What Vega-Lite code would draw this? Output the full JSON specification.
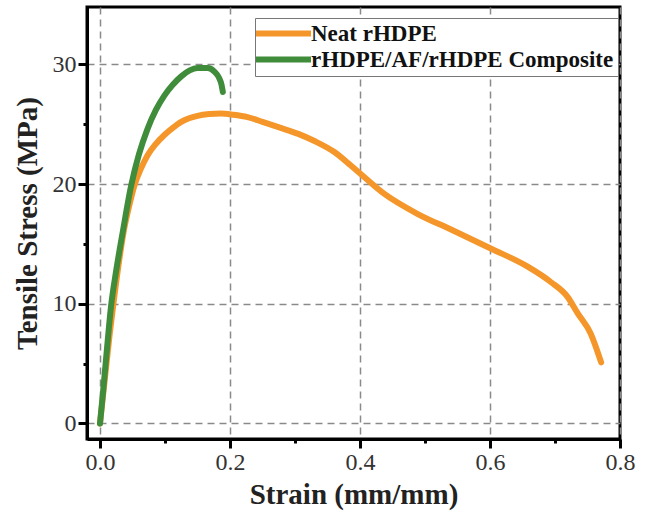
{
  "$schema": "https://vega.github.io/schema/vega-lite/v6.json",
  "autosize": {"type": "none"},
  "width": 533,
  "height": 432,
  "padding": {"left": 87, "top": 7, "right": 26, "bottom": 73},
  "background": "white",
  "config": {
    "font": "Liberation Serif",
    "view": {"stroke": "black", "strokeWidth": 3}
  },
  "data": {
    "values": [
      {"sample": "Neat rHDPE", "strain": 0.0, "stress": 0.0},
      {"sample": "Neat rHDPE", "strain": 0.005, "stress": 2.5},
      {"sample": "Neat rHDPE", "strain": 0.01, "stress": 5.0},
      {"sample": "Neat rHDPE", "strain": 0.015, "stress": 7.5},
      {"sample": "Neat rHDPE", "strain": 0.022, "stress": 10.6},
      {"sample": "Neat rHDPE", "strain": 0.03, "stress": 13.8},
      {"sample": "Neat rHDPE", "strain": 0.037, "stress": 16.2},
      {"sample": "Neat rHDPE", "strain": 0.045, "stress": 18.2},
      {"sample": "Neat rHDPE", "strain": 0.053, "stress": 19.9},
      {"sample": "Neat rHDPE", "strain": 0.063, "stress": 21.3},
      {"sample": "Neat rHDPE", "strain": 0.073, "stress": 22.4},
      {"sample": "Neat rHDPE", "strain": 0.085, "stress": 23.3},
      {"sample": "Neat rHDPE", "strain": 0.099, "stress": 24.1},
      {"sample": "Neat rHDPE", "strain": 0.112, "stress": 24.7},
      {"sample": "Neat rHDPE", "strain": 0.125, "stress": 25.2},
      {"sample": "Neat rHDPE", "strain": 0.137, "stress": 25.5},
      {"sample": "Neat rHDPE", "strain": 0.15, "stress": 25.7},
      {"sample": "Neat rHDPE", "strain": 0.168, "stress": 25.85},
      {"sample": "Neat rHDPE", "strain": 0.186, "stress": 25.9},
      {"sample": "Neat rHDPE", "strain": 0.205, "stress": 25.8},
      {"sample": "Neat rHDPE", "strain": 0.227, "stress": 25.6},
      {"sample": "Neat rHDPE", "strain": 0.25, "stress": 25.2},
      {"sample": "Neat rHDPE", "strain": 0.278, "stress": 24.7},
      {"sample": "Neat rHDPE", "strain": 0.305, "stress": 24.2},
      {"sample": "Neat rHDPE", "strain": 0.33, "stress": 23.6},
      {"sample": "Neat rHDPE", "strain": 0.36, "stress": 22.7},
      {"sample": "Neat rHDPE", "strain": 0.385, "stress": 21.6},
      {"sample": "Neat rHDPE", "strain": 0.402, "stress": 20.8},
      {"sample": "Neat rHDPE", "strain": 0.437, "stress": 19.2},
      {"sample": "Neat rHDPE", "strain": 0.489, "stress": 17.5},
      {"sample": "Neat rHDPE", "strain": 0.54, "stress": 16.2},
      {"sample": "Neat rHDPE", "strain": 0.602, "stress": 14.6},
      {"sample": "Neat rHDPE", "strain": 0.658, "stress": 13.1},
      {"sample": "Neat rHDPE", "strain": 0.694, "stress": 11.8},
      {"sample": "Neat rHDPE", "strain": 0.719, "stress": 10.6},
      {"sample": "Neat rHDPE", "strain": 0.735, "stress": 9.2},
      {"sample": "Neat rHDPE", "strain": 0.755, "stress": 7.5},
      {"sample": "Neat rHDPE", "strain": 0.771, "stress": 5.1},
      {"sample": "rHDPE/AF/rHDPE Composite", "strain": 0.0, "stress": 0.0},
      {"sample": "rHDPE/AF/rHDPE Composite", "strain": 0.005, "stress": 2.8},
      {"sample": "rHDPE/AF/rHDPE Composite", "strain": 0.01, "stress": 5.8},
      {"sample": "rHDPE/AF/rHDPE Composite", "strain": 0.017, "stress": 9.8},
      {"sample": "rHDPE/AF/rHDPE Composite", "strain": 0.025, "stress": 12.8},
      {"sample": "rHDPE/AF/rHDPE Composite", "strain": 0.035, "stress": 16.0},
      {"sample": "rHDPE/AF/rHDPE Composite", "strain": 0.048, "stress": 19.9},
      {"sample": "rHDPE/AF/rHDPE Composite", "strain": 0.06, "stress": 22.5},
      {"sample": "rHDPE/AF/rHDPE Composite", "strain": 0.073, "stress": 24.6},
      {"sample": "rHDPE/AF/rHDPE Composite", "strain": 0.086, "stress": 26.2},
      {"sample": "rHDPE/AF/rHDPE Composite", "strain": 0.099, "stress": 27.4},
      {"sample": "rHDPE/AF/rHDPE Composite", "strain": 0.112, "stress": 28.3},
      {"sample": "rHDPE/AF/rHDPE Composite", "strain": 0.125, "stress": 29.0},
      {"sample": "rHDPE/AF/rHDPE Composite", "strain": 0.138, "stress": 29.5},
      {"sample": "rHDPE/AF/rHDPE Composite", "strain": 0.15, "stress": 29.7},
      {"sample": "rHDPE/AF/rHDPE Composite", "strain": 0.166, "stress": 29.7},
      {"sample": "rHDPE/AF/rHDPE Composite", "strain": 0.176, "stress": 29.4},
      {"sample": "rHDPE/AF/rHDPE Composite", "strain": 0.183, "stress": 28.9},
      {"sample": "rHDPE/AF/rHDPE Composite", "strain": 0.187, "stress": 28.3},
      {"sample": "rHDPE/AF/rHDPE Composite", "strain": 0.189, "stress": 27.7}
    ]
  },
  "mark": {"type": "line", "strokeWidth": 6, "strokeCap": "round", "strokeJoin": "round", "interpolate": "monotone", "clip": true},
  "encoding": {
    "x": {
      "field": "strain",
      "type": "quantitative",
      "scale": {"domain": [-0.02, 0.8], "nice": false, "zero": false},
      "axis": {
        "title": "Strain (mm/mm)",
        "values": [0, 0.1, 0.2, 0.3, 0.4, 0.5, 0.6, 0.7, 0.8],
        "labelExpr": "round(datum.value*10) % 2 === 0 ? format(datum.value, '.1f') : ''",
        "labelFont": "Liberation Serif",
        "labelFontSize": 24,
        "labelColor": "#333",
        "labelPadding": 2,
        "labelFlush": false,
        "labelOverlap": false,
        "titleFont": "Liberation Serif",
        "titleFontSize": 29,
        "titleFontWeight": "bold",
        "titleColor": "#222",
        "titlePadding": 6,
        "domainColor": "black",
        "domainWidth": 3,
        "tickColor": "black",
        "tickWidth": 3,
        "tickSize": {"condition": {"test": "round(datum.value*10) % 2 === 0", "value": 9}, "value": 4},
        "grid": true,
        "gridColor": "#8a8a8a",
        "gridWidth": 1.5,
        "gridDash": [7, 5],
        "gridOpacity": {"condition": {"test": "round(datum.value*10) % 2 === 0", "value": 1}, "value": 0}
      }
    },
    "y": {
      "field": "stress",
      "type": "quantitative",
      "scale": {"domain": [-1.3, 34.8], "nice": false, "zero": false},
      "axis": {
        "title": "Tensile Stress (MPa)",
        "values": [0, 5, 10, 15, 20, 25, 30],
        "labelExpr": "datum.value % 10 === 0 ? format(datum.value, 'd') : ''",
        "labelFont": "Liberation Serif",
        "labelFontSize": 24,
        "labelColor": "#333",
        "labelPadding": 2,
        "labelOverlap": false,
        "titleFont": "Liberation Serif",
        "titleFontSize": 29,
        "titleFontWeight": "bold",
        "titleColor": "#222",
        "titlePadding": 10,
        "domainColor": "black",
        "domainWidth": 3,
        "tickColor": "black",
        "tickWidth": 3,
        "tickSize": {"condition": {"test": "datum.value % 10 === 0", "value": 9}, "value": 4},
        "grid": true,
        "gridColor": "#8a8a8a",
        "gridWidth": 1.5,
        "gridDash": [7, 5],
        "gridOpacity": {"condition": {"test": "datum.value % 10 === 0", "value": 1}, "value": 0}
      }
    },
    "color": {
      "field": "sample",
      "type": "nominal",
      "scale": {"domain": ["Neat rHDPE", "rHDPE/AF/rHDPE Composite"], "range": ["#f5962a", "#3f8c3a"]},
      "legend": {
        "title": null,
        "orient": "none",
        "legendX": 168,
        "legendY": 11,
        "symbolType": "M-5,0H5",
        "symbolSize": 121,
        "symbolStrokeWidth": 6,
        "symbolFillColor": "transparent",
        "symbolOffset": 13,
        "labelFont": "Liberation Serif",
        "labelFontSize": 23,
        "labelFontWeight": "bold",
        "labelColor": "#111",
        "labelOffset": 16,
        "labelLimit": 400,
        "rowPadding": 1,
        "padding": 4,
        "strokeColor": "#777",
        "fillColor": "white"
      }
    },
    "order": {"field": "strain", "type": "quantitative"}
  }
}
